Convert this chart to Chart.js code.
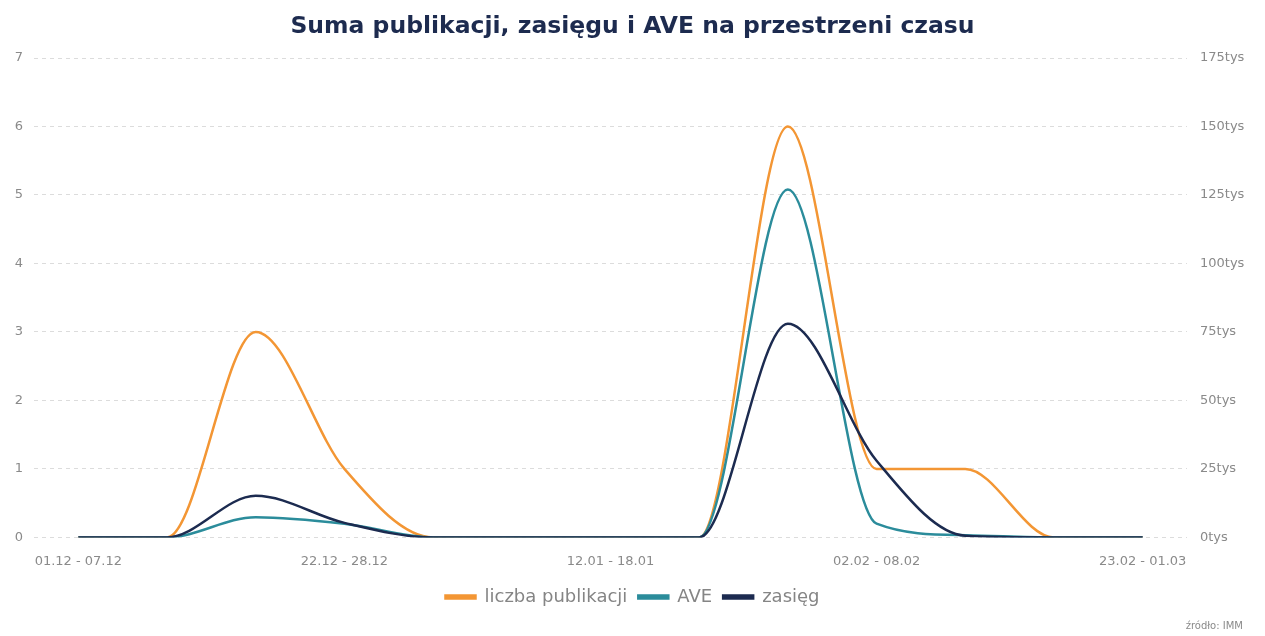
<!DOCTYPE html>
<html>
<head>
<meta charset="utf-8">
<script src="https://cdn.jsdelivr.net/npm/chart.js@4/dist/chart.umd.min.js"></script>
<style>
html,body{margin:0;padding:0;background:#fff;}
#wrap{position:relative;width:1265px;height:636px;}
#src{position:absolute;right:22px;top:620px;font:10px "DejaVu Sans",sans-serif;color:#8a8a8a;}
</style>
</head>
<body>
<div id="wrap">
<canvas id="c" width="1265" height="636"></canvas>
<div id="src">źródło: IMM</div>
</div>
<script>
const categories = ["01.12 - 07.12","08.12 - 14.12","15.12 - 21.12","22.12 - 28.12","29.12 - 04.01","05.01 - 11.01","12.01 - 18.01","19.01 - 25.01","26.01 - 01.02","02.02 - 08.02","09.02 - 15.02","16.02 - 22.02","23.02 - 01.03"];
const publikacje = [0,0,3,1,0,0,0,0,6,1,1,0,0];
const ave = [0,0,7400,5000,0,0,0,0,127000,5000,800,0,0];
const zasieg = [0,0,15200,5300,0,0,0,0,78000,28000,600,0,0];
const leftTicks = [0,1,2,3,4,5,6,7];
const rightTicks = [0,25000,50000,75000,100000,125000,150000,175000];

const FONT = "'DejaVu Sans', sans-serif";
const tickFont = {family:FONT, size:13};
new Chart(document.getElementById('c'), {
  type:'line',
  data:{
    labels:categories,
    datasets:[
      {label:'liczba publikacji', data:publikacje, borderColor:'#f39634', backgroundColor:'#f39634', yAxisID:'y', order:2},
      {label:'AVE', data:ave, borderColor:'#2b8c9b', backgroundColor:'#2b8c9b', yAxisID:'y1', order:1},
      {label:'zasięg', data:zasieg, borderColor:'#1c2b50', backgroundColor:'#1c2b50', yAxisID:'y1', order:0}
    ]
  },
  options:{
    responsive:false,
    animation:false,
    layout:{padding:{left:0,right:0,bottom:20,top:0}},
    elements:{
      line:{borderWidth:2.5, cubicInterpolationMode:'monotone'},
      point:{radius:0}
    },
    plugins:{
      title:{display:true, text:'Suma publikacji, zasięgu i AVE na przestrzeni czasu', color:'#1d2b4f',
        font:{family:FONT, size:23.5, weight:'bold'}, padding:{top:13,bottom:16.8}},
      legend:{position:'bottom', labels:{boxWidth:30, boxHeight:3, color:'#858585', padding:11,
        sort:(a,b)=>a.datasetIndex-b.datasetIndex,
        font:{family:FONT, size:18}}},
      tooltip:{enabled:false}
    },
    scales:{
      x:{offset:true, grid:{display:false}, border:{display:false},
        ticks:{color:'#8a8a8a', font:tickFont, maxRotation:0, autoSkip:false, padding:8,
          callback:function(v,i){return i%3===0 ? this.getLabelForValue(v) : '';}}},
      y:{position:'left', min:0, max:7, afterBuildTicks:a=>{a.ticks=leftTicks.map(v=>({value:v}));},
        afterFit:s=>{s.width=34;},
        grid:{color:'#dcdcdc', drawTicks:false, lineWidth:1}, border:{display:false, dash:[4,4]},
        ticks:{color:'#8a8a8a', font:tickFont, padding:11}},
      y1:{position:'right', min:0, max:175000, afterBuildTicks:a=>{a.ticks=rightTicks.map(v=>({value:v}));},
        afterFit:s=>{s.width=78;},
        grid:{display:false, drawTicks:false}, border:{display:false},
        ticks:{color:'#8a8a8a', font:tickFont, padding:13, callback:v=>(v/1000)+'tys'}}
    }
  }
});
</script>
</body>
</html>
